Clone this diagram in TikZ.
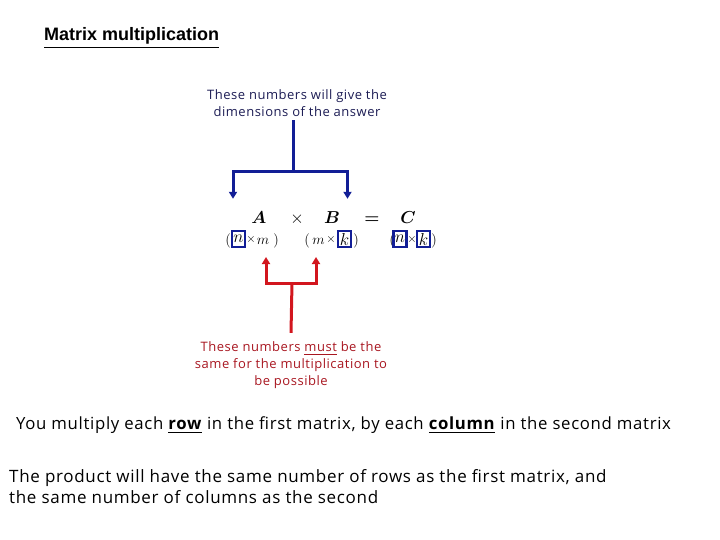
\documentclass[tikz,border=0pt]{standalone}
\usepackage{amsmath,amssymb}
\usepackage{xcolor}
\usepackage{fontspec}
\usetikzlibrary{positioning,calc,arrows.meta}
\newfontfamily\titlefont{Liberation Sans}
\newfontfamily\notefont[LetterSpace=4]{Open Sans}
\definecolor{forkblue}{RGB}{18,30,150}
\definecolor{forkred}{RGB}{210,22,30}
\definecolor{notenavy}{RGB}{28,28,84}
\definecolor{notered}{RGB}{168,22,32}

\begin{document}
\begin{tikzpicture}[x=1pt,y=-1pt,
    big/.style={inner sep=0pt, anchor=base, font=\fontsize{19}{19}\selectfont},
    small/.style={inner sep=0pt, anchor=base, font=\fontsize{15.5}{15.5}\selectfont},
    tiny/.style={inner sep=0pt, anchor=base, font=\fontsize{12}{12}\selectfont},
    dimbox/.style={draw=forkblue, line width=2.4pt, inner sep=0pt, minimum width=13pt, minimum height=16pt, font=\fontsize{17.28}{17.28}\selectfont},
    blueline/.style={draw=forkblue, line width=3pt},
    redline/.style={draw=forkred, line width=3pt},
    tip/.style={-{Triangle[width=8pt,length=7pt]}},
    note/.style={font=\notefont\fontsize{13}{17}\selectfont, align=center},
    body/.style={inner sep=0pt, font=\notefont\fontsize{17}{21}\selectfont, align=left}]
    \useasboundingbox (0,0) rectangle (720,540);

    % Title
    \node[anchor=west, inner sep=0pt, font=\titlefont\bfseries\fontsize{18}{18}\selectfont] (title) at (44,38) {\underline{Matrix multiplication}};

    % Dimensions of the answer
    \node[note, text=notenavy] (topnote) at (297,103) {These numbers will give the\\dimensions of the answer};

    % Equation
    \node[big] (A) at (259,223) {$\boldsymbol{A}$};
    \node[big] (times) at (297,223) {$\times$};
    \node[big] (B) at (332,223) {$\boldsymbol{B}$};
    \node[big] (eq) at (372,223) {$\boldsymbol{=}$};
    \node[big] (C) at (408,223) {$\boldsymbol{C}$};

    % Sizes
    \node[small] (lpA) at (228,244) {$($};
    \node[dimbox] (nA) at (238.5,239) {$n$};
    \node[tiny] (xA) at (251,243) {$\times$};
    \node[small] (mA) at (263,244) {$m$};
    \node[small] (rpA) at (276,244) {$)$};
    \node[small] (lpB) at (307,244) {$($};
    \node[small] (mB) at (318.5,244) {$m$};
    \node[tiny] (xB) at (331,243) {$\times$};
    \node[dimbox] (kB) at (344.5,239) {$k$};
    \node[small] (rpB) at (356,244) {$)$};
    \node[small] (lpC) at (392,244) {$($};
    \node[dimbox] (nC) at (400,239) {$n$};
    \node[tiny] (xC) at (412,243) {$\times$};
    \node[dimbox] (kC) at (423.5,239) {$k$};
    \node[small] (rpC) at (434,244) {$)$};

    % Blue fork
    \coordinate (bluefork) at (293,172);
    \draw[blueline] (topnote.south -| bluefork) -- (bluefork);
    \draw[blueline, tip] (bluefork) -| ([xshift=-5.5pt,yshift=31pt]nA.north);
    \draw[blueline, tip] (bluefork) -| ([xshift=3pt,yshift=31pt]kB.north);

    % Red fork
    \node[note, text=notered, inner sep=1pt] (rednote) at (291,365.5) {These numbers \underline{must} be the\\same for the multiplication to\\be possible};
    \coordinate (redfork) at (292,283);
    \draw[redline] ([yshift=8pt]rednote.north) -- (redfork);
    \draw[redline, tip] (redfork) -| ([xshift=3pt,yshift=-13pt]mA.base);
    \draw[redline, tip] (redfork) -| ([xshift=-2.5pt,yshift=-13pt]mB.base);

    % Rules
    \node[body, anchor=west, font=\notefont\fontsize{16.75}{21}\selectfont] (rule) at (16,425) {You multiply each \underline{\textbf{row}} in the first matrix, by each \underline{\textbf{column}} in the second matrix};
    \node[body, anchor=north west] (product) at (9,469) {The product will have the same number of rows as the first matrix, and\\the same number of columns as the second};
\end{tikzpicture}
\end{document}
